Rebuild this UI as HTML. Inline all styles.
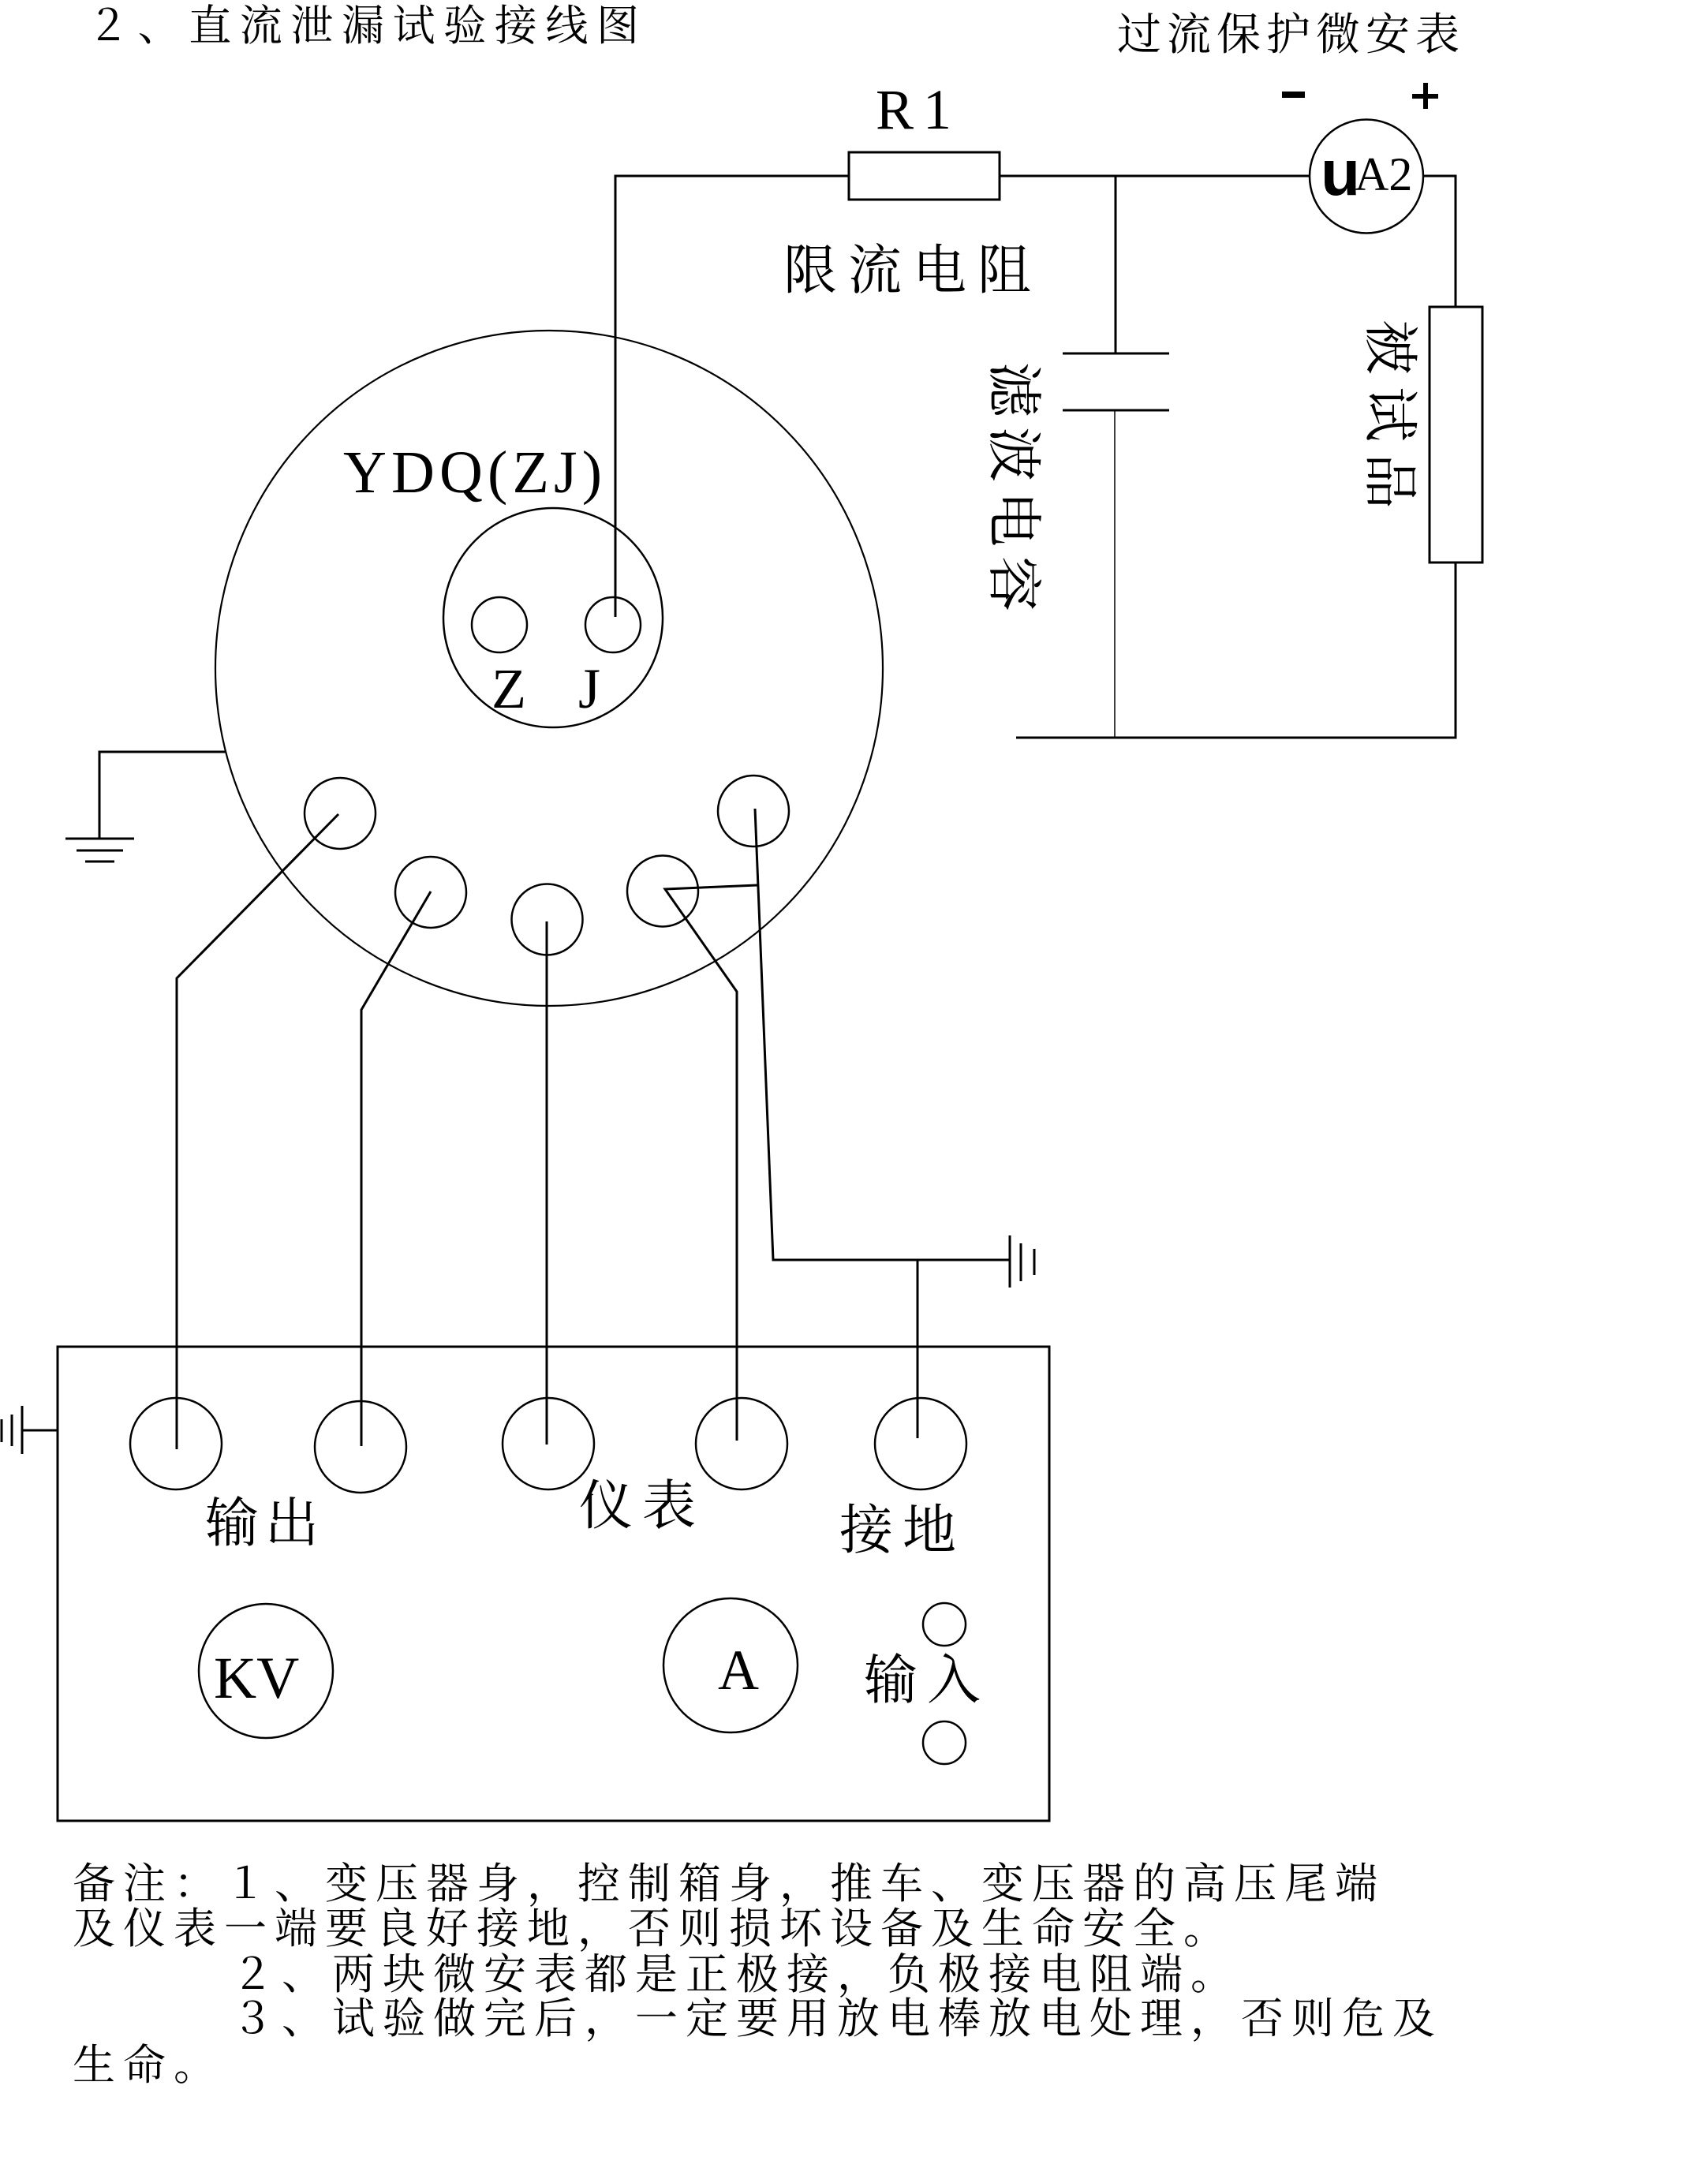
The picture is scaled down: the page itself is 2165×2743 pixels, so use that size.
<!DOCTYPE html>
<html>
<head>
<meta charset="utf-8">
<style>
html,body{margin:0;padding:0;background:#fff;}
svg{display:block;}
.cjk{font-family:"Liberation Serif","Noto Serif CJK SC",serif;fill:#000;}
.lat{font-family:"Liberation Serif",serif;fill:#000;}
</style>
</head>
<body>
<svg width="2165" height="2743" viewBox="0 0 2165 2743" xmlns="http://www.w3.org/2000/svg">
<rect width="2165" height="2743" fill="#fff"/>

<!-- Title -->
<text class="cjk" x="110" y="51" font-size="54" letter-spacing="10.6">２、直流泄漏试验接线图</text>
<text class="cjk" x="1416" y="63" font-size="56" letter-spacing="7">过流保护微安表</text>

<!-- top circuit -->
<g fill="none" stroke="#000" stroke-width="3">
  <polyline points="780,782 780,223 1076,223"/>
  <rect x="1076" y="193" width="191" height="60"/>
  <line x1="1267" y1="223" x2="1660" y2="223"/>
  <line x1="1414" y1="223" x2="1414" y2="448"/>
  <line x1="1347" y1="448" x2="1482" y2="448"/>
  <line x1="1347" y1="520" x2="1482" y2="520"/>
  <circle cx="1732" cy="223.5" r="72" stroke-width="2.5"/>
  <polyline points="1804,223 1845,223 1845,389"/>
  <rect x="1812" y="389" width="67" height="324"/>
  <polyline points="1845,713 1845,935 1288,935"/>
</g>
<line x1="1413" y1="520" x2="1413" y2="935" stroke="#000" stroke-width="1.5"/>

<!-- minus / plus -->
<rect x="1625" y="116" width="29" height="8" fill="#000"/>
<rect x="1790" y="119" width="33" height="6" fill="#000"/>
<rect x="1804" y="105" width="6" height="33" fill="#000"/>

<!-- UA2 -->
<text x="1674" y="247" font-family="Liberation Sans, sans-serif" font-weight="bold" font-size="82" fill="#000">u</text>
<text class="lat" x="1717" y="241" font-size="60">A2</text>

<!-- R1 & labels -->
<text class="lat" x="1110" y="163" font-size="72" letter-spacing="12">R1</text>
<text class="cjk" x="993" y="366" font-size="68" letter-spacing="14">限流电阻</text>
<text class="cjk" font-size="70" letter-spacing="12" transform="translate(1261,459) rotate(90)">滤波电容</text>
<text class="cjk" font-size="70" letter-spacing="15" transform="translate(1738,405) rotate(90)">被试品</text>

<!-- main YDQ circle -->
<g fill="none" stroke="#000">
  <ellipse cx="696" cy="847" rx="423" ry="428" stroke-width="2.2"/>
  <circle cx="701" cy="783" r="139" stroke-width="2.5"/>
  <circle cx="633" cy="792" r="35" stroke-width="2.5"/>
  <circle cx="777" cy="792" r="35" stroke-width="2.5"/>
  <circle cx="431" cy="1031" r="45" stroke-width="2.5"/>
  <circle cx="546" cy="1131" r="45" stroke-width="2.5"/>
  <circle cx="693.5" cy="1165.5" r="45" stroke-width="2.5"/>
  <circle cx="840" cy="1129.5" r="45" stroke-width="2.5"/>
  <circle cx="955" cy="1028" r="45" stroke-width="2.5"/>
</g>
<text class="lat" x="435" y="624" font-size="76" textLength="328" lengthAdjust="spacing">YDQ(ZJ)</text>
<text class="lat" x="623" y="897" font-size="72">Z</text>
<text class="lat" x="733" y="897" font-size="72">J</text>

<!-- left ground on circle -->
<g stroke="#000" stroke-width="3" fill="none">
  <polyline points="287,953 126,953 126,1063"/>
  <line x1="83" y1="1063" x2="170" y2="1063"/>
  <line x1="97" y1="1078" x2="156" y2="1078"/>
  <line x1="108" y1="1092" x2="145" y2="1092"/>
</g>

<!-- wires from pins to box -->
<g stroke="#000" stroke-width="3" fill="none">
  <polyline points="429,1032 224,1240 224,1837"/>
  <polyline points="546,1130 458,1280 458,1833"/>
  <polyline points="693,1168 693,1831"/>
  <polyline points="960,1122 843,1127 934,1257 934,1826"/>
  <polyline points="957,1025 980,1597 1280,1597"/>
  <line x1="1163" y1="1597" x2="1163" y2="1823"/>
  <line x1="1280" y1="1566" x2="1280" y2="1632"/>
  <line x1="1294" y1="1576" x2="1294" y2="1624"/>
  <line x1="1311" y1="1583" x2="1311" y2="1616"/>
</g>

<!-- instrument box -->
<g stroke="#000" stroke-width="3" fill="none">
  <rect x="73" y="1707" width="1257" height="601"/>
  <line x1="28" y1="1813" x2="73" y2="1813"/>
  <line x1="28" y1="1782" x2="28" y2="1843"/>
  <line x1="15" y1="1793" x2="15" y2="1833"/>
  <line x1="2" y1="1799" x2="2" y2="1828"/>
</g>
<g stroke="#000" stroke-width="2.5" fill="none">
  <circle cx="223" cy="1830" r="58"/>
  <circle cx="457" cy="1834" r="58"/>
  <circle cx="695" cy="1830" r="58"/>
  <circle cx="940" cy="1830" r="58"/>
  <circle cx="1167" cy="1830" r="58"/>
  <circle cx="337" cy="2118" r="85"/>
  <circle cx="926" cy="2111" r="85"/>
  <circle cx="1197" cy="2059" r="27"/>
  <circle cx="1197" cy="2209" r="27"/>
</g>
<text class="cjk" x="260" y="1954" font-size="68" letter-spacing="8">输出</text>
<text class="cjk" x="734" y="1932" font-size="68" letter-spacing="12">仪表</text>
<text class="cjk" x="1064" y="1963" font-size="68" letter-spacing="12">接地</text>
<text class="cjk" x="1095" y="2153" font-size="68" letter-spacing="12">输入</text>
<text class="lat" x="271" y="2152" font-size="75">KV</text>
<text class="lat" x="910" y="2141" font-size="72">A</text>

<!-- notes -->
<g class="cjk" font-size="54" letter-spacing="10">
  <text x="92" y="2406">备注：１、变压器身，控制箱身，推车、变压器的高压尾端</text>
  <text x="92" y="2463">及仪表一端要良好接地，否则损坏设备及生命安全。</text>
  <text x="293" y="2521">２、两块微安表都是正极接，负极接电阻端。</text>
  <text x="293" y="2577">３、试验做完后，一定要用放电棒放电处理，否则危及</text>
  <text x="92" y="2636">生命。</text>
</g>
</svg>
</body>
</html>
